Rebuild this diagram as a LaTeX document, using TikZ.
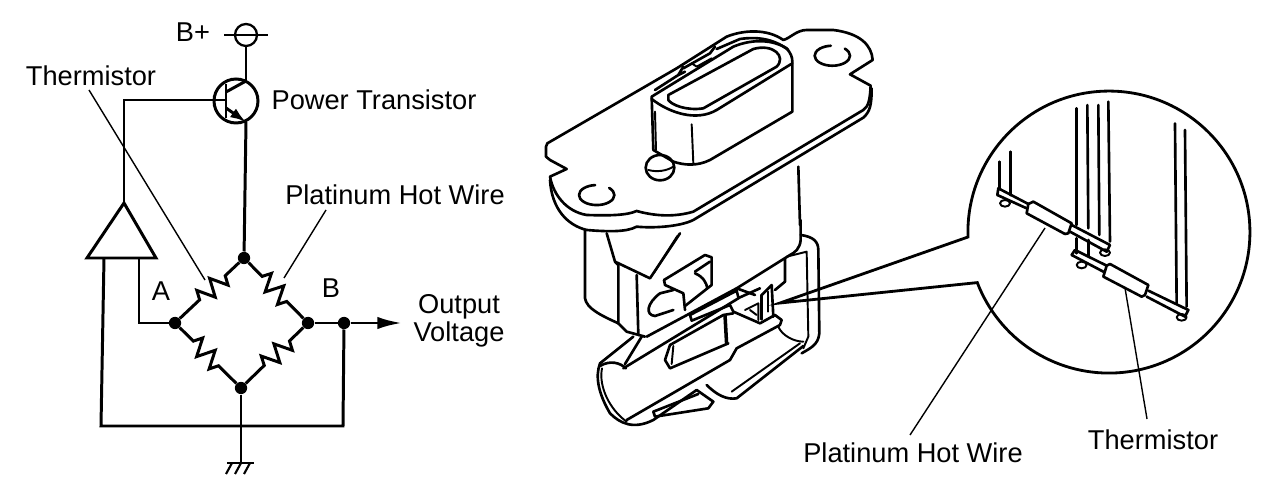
\documentclass[tikz,border=0pt]{standalone}
\usepackage{fontspec}
\setmainfont{Liberation Sans}
\usetikzlibrary{arrows.meta,decorations.pathmorphing}

\tikzset{
	wire/.style={line width=1.7pt, line join=miter},
	thin leader/.style={line width=0.8pt},
	dot/.style={circle, fill=black, inner sep=0pt, minimum size=7pt},
	txt/.style={font=\fontsize{15.5}{17}\selectfont, inner sep=0pt, align=center},
	res/.style={wire, decorate, decoration={zigzag, segment length=10pt, amplitude=5pt, pre length=11pt, post length=11pt}},
	body/.style={line width=1.5pt, line join=round, line cap=round},
	fine/.style={line width=1.1pt, line join=round, line cap=round}
}

\begin{document}
\begin{tikzpicture}[x=0.02cm, y=-0.02cm]
		\useasboundingbox (0, 0) rectangle (1280, 482);

		\path (193, 32) node[txt] (bplus) {B+}
  		(91, 76) node[txt] (thermL) {Thermistor}
  		(374, 100) node[txt] (powerL) {Power Transistor}
  		(395, 195) node[txt] (hotL) {Platinum Hot Wire}
  		(161, 291) node[txt] (aL) {A}
  		(331, 288) node[txt] (bL) {B}
  		(459, 321) node[txt] (outL) {Output\\[-1pt]Voltage}
  		(913, 453) node[txt] (hotR) {Platinum Hot Wire}
  		(1153, 440) node[txt] (thermR) {Thermistor};

		\path (246, 35) node[circle, draw, line width=1.3pt, inner sep=0pt, minimum size=0.44cm] (supply) {}
  		(236, 101) node[circle, draw, line width=1.7pt, inner sep=0pt, minimum size=0.88cm] (tr) {}
  		(244, 258) node[dot] (top) {}
  		(175, 323) node[dot] (left) {}
  		(308, 323) node[dot] (right) {}
  		(241, 388) node[dot] (bottom) {}
  		(344, 323) node[dot] (out) {};

		\coordinate (supplyL) at (224, 35);
		\coordinate (supplyR) at (268, 35);
		\coordinate (coll) at (246, 81);
		\coordinate (emit) at (246, 122);
		\coordinate (barT) at (226, 84);
		\coordinate (barB) at (226, 118);
		\coordinate (barC) at (226, 92);
		\coordinate (barE) at (226, 108);
		\coordinate (barM) at (226, 100);
		\coordinate (ampOut) at (124, 203);
		\coordinate (ampCorner) at (124, 100);
		\coordinate (ampL) at (87, 258);
		\coordinate (ampR) at (156, 258);
		\coordinate (inA) at (139, 258);
		\coordinate (inB) at (104, 258);
		\coordinate (cornerA) at (139, 323);
		\coordinate (cornerBL) at (101, 426);
		\coordinate (cornerBR) at (343, 426);
		\coordinate (tip) at (402, 323);
		\coordinate (gnd) at (241, 463);

		\draw[wire] (supplyL) -- (supplyR);
		\draw[wire] (supply) -- (coll);
		\draw[wire] (coll) -- (barC);
		\draw[wire] (barT) -- (barB);
		\draw[wire] (barM) -- (ampCorner) -- (ampOut);
		\draw[wire] (ampOut) -- (ampL) -- (ampR) -- cycle;
		\draw[wire, -{Latex[length=9pt, width=6pt]}] (barE) -- (emit);
		\draw[wire] (emit) -- (top);
		\draw[res] (top) -- (left);
		\draw[res] (top) -- (right);
		\draw[res] (left) -- (bottom);
		\draw[res] (right) -- (bottom);
		\draw[wire] (inA) -- (cornerA) -- (left);
		\draw[wire] (inB) -- (cornerBL) -- (cornerBR) -- (out);
		\draw[wire] (right) -- (out);
		\draw[wire, -{Latex[length=14pt, width=7pt]}] (out) -- (tip);
		\draw[wire] (bottom) -- (gnd);
		\draw[wire] (227, 463) -- (254, 463);
		\foreach \gx in {232, 241, 250}
			\draw[line width=1.2pt] (\gx, 463) -- ++(-6, 11);

		\coordinate (thermEnd) at (205, 280);
		\coordinate (thermStart) at (89, 90);
		\coordinate (hotEnd) at (284, 278);
		\coordinate (hotStart) at (326, 210);
		\draw[thin leader] (thermStart) -- (thermEnd);
		\draw[thin leader] (hotStart) -- (hotEnd);

		% callout with the round inset
		\coordinate (calloutTip) at (780, 303);
		\draw[line width=1.6pt, line join=miter] (calloutTip) -- (968, 237)
  			arc[start angle=178, end angle=519, radius=141] -- cycle;

		% plate and connector
		\begin{scope}[shift={(540, 25)}, x=0.00667cm, y=-0.00667cm]
			\draw[body] (22, 355) -- (410, 130) -- (560, 35) .. controls (610, 15) and (680, 10) .. (730, 45)
  				.. controls (750, 40) and (770, 15) .. (800, 15) -- (880, 15)
  				.. controls (960, 25) and (995, 60) .. (998, 105) -- (930, 148) -- (992, 182)
  				.. controls (990, 225) and (985, 245) .. (970, 255) -- (460, 560)
  				.. controls (400, 578) and (340, 572) .. (290, 558) .. controls (260, 572) and (200, 572) .. (140, 570)
  				.. controls (80, 560) and (40, 510) .. (30, 455) -- (80, 432) -- (30, 405) -- (18, 395)
  				-- (18, 365) -- cycle;
			\draw[body] (995, 190) .. controls (995, 240) and (990, 260) .. (970, 278) -- (460, 585)
  				.. controls (420, 605) and (340, 610) .. (290, 605) .. controls (260, 622) and (200, 620) .. (140, 615)
  				.. controls (80, 600) and (35, 550) .. (30, 465);
			\draw[body] (335, 215) -- (580, 65) .. controls (640, 40) and (700, 45) .. (740, 70)
  				.. controls (752, 85) and (757, 95) .. (757, 110) -- (757, 260) -- (510, 405)
  				.. controls (470, 425) and (430, 420) .. (400, 410) -- (340, 375) -- cycle;
			\draw[body] (335, 222) .. controls (390, 265) and (470, 290) .. (530, 255) -- (757, 115);
			\draw[body] (385, 210) -- (640, 72) .. controls (700, 55) and (740, 95) .. (710, 125) -- (490, 250)
  				.. controls (440, 258) and (395, 240) .. (385, 225) -- cycle;
			\draw[fine] (345, 260) -- (348, 375);
			\draw[fine] (455, 298) -- (460, 415);
			% tab on the rim
			\draw[body] (415, 150) -- (430, 125);
			\draw[body] (345, 195) -- (415, 150) -- (435, 140);
			\draw[body] (430, 130) -- (510, 85) -- (525, 65);
			\draw[fine] (455, 115) -- (470, 125) -- (515, 100);
			\draw[body] (530, 72) -- (600, 42) .. controls (650, 35) and (700, 40) .. (745, 75);
			% holes and pin
			\draw[body] (914.5, 71) arc[start angle=-45, end angle=265, x radius=53, y radius=30];
			\draw[body] (207.5, 489) arc[start angle=-45, end angle=265, x radius=53, y radius=30];
			\draw[body] (360, 428) ellipse[x radius=43, y radius=38];
			\draw[fine] (325, 435) .. controls (350, 442) and (380, 438) .. (400, 425);
			\draw[body] (775, 425) -- (780, 600);
		\end{scope}

		% lower part with the duct
		\begin{scope}[shift={(590, 220)}, x=0.00667cm, y=-0.00667cm]
			\draw[body] (632, 0) -- (632, 60) .. controls (630, 85) and (615, 98) .. (600, 105) -- (440, 205) -- (170, 350);
			\draw[body] (100, 445) -- (450, 232) -- (510, 205);
			\draw[body] (-15, 30) -- (-15, 235) .. controls (-10, 265) and (30, 285) .. (85, 310);
			\draw[body] (50, 40) -- (75, 125) -- (180, 175) -- (270, 40);
			\draw[fine] (192, 158) -- (262, 48);
			\draw[body] (75, 125) -- (85, 135) -- (85, 310) -- (110, 335) -- (165, 350);
			\draw[body] (140, 165) -- (145, 345);
			% knob
			\draw[body] (222, 180) -- (345, 105) -- (365, 112) -- (365, 195) -- (285, 258);
			\draw[body] (222, 180) -- (225, 195) -- (280, 220) -- (285, 270);
			\draw[body] (315, 155) -- (360, 125);
			\draw[body] (315, 160) .. controls (340, 170) and (350, 190) .. (352, 205);
			\draw[body] (250, 210) -- (210, 220) .. controls (170, 250) and (165, 285) .. (195, 288) -- (250, 270);
			% strip and slot
			\draw[body] (300, 285) -- (440, 212) -- (445, 232);
			\draw[body] (300, 285) -- (305, 302) -- (420, 255) -- (430, 275) -- (510, 310) -- (555, 285)
  				-- (575, 300) -- (570, 315) -- (440, 385) -- (420, 420) -- (110, 600);
			\draw[body] (400, 285) -- (240, 375) -- (225, 420) -- (240, 445) -- (415, 370);
			\draw[fine] (250, 378) -- (245, 432);
			\draw[line width=2pt] (405, 285) -- (410, 375);
			\draw[body] (400, 285) -- (430, 280);
			% mouth of the duct
			\draw[body] (130, 350) -- (30, 430) .. controls (15, 470) and (25, 520) .. (60, 580)
  				.. controls (90, 610) and (130, 630) .. (190, 600) -- (320, 510);
			\draw[body] (155, 350) -- (105, 432);
			\draw[body] (30, 438) .. controls (60, 420) and (90, 428) .. (108, 445);
			\draw[fine] (36, 445) .. controls (25, 500) and (60, 570) .. (110, 605);
			\draw[body] (190, 575) -- (325, 522);
			\draw[body] (190, 575) -- (195, 590) -- (355, 565) -- (370, 545) -- (320, 510);
			\draw[body] (350, 495) .. controls (380, 525) and (410, 540) .. (440, 535) -- (640, 378);
			\draw[fine] (425, 515) -- (630, 370);
			% housing around the duct
			\draw[body] (632, 45) .. controls (670, 50) and (685, 65) .. (685, 90) -- (688, 340)
  				.. controls (685, 375) and (660, 385) .. (635, 400);
			\draw[fine] (590, 110) -- (650, 95) -- (655, 350) -- (640, 385);
			\draw[body] (585, 115) -- (585, 185) -- (555, 210);
			\draw[fine] (565, 320) .. controls (575, 345) and (610, 365) .. (640, 365);
			% sensor
			\draw[body] (440, 205) -- (495, 225);
			\draw[body] (515, 225) -- (545, 195) -- (550, 290);
			\draw[body] (515, 225) -- (515, 298);
			\draw[fine] (535, 215) -- (535, 275);
			\draw[fine] (465, 270) -- (505, 250) -- (505, 300);
			\draw[fine] (480, 270) -- (500, 285);
		\end{scope}

		% wires in the inset
		\begin{scope}[shift={(760, 100)}, x=0.00667cm, y=-0.00667cm]
			\draw[body] (950, 25) -- (950, 375);
			\draw[body] (982, 15) -- (985, 385);
			\draw[body] (1015, 15) -- (1018, 405);
			\draw[body] (1045, 5) -- (1050, 425);
			\draw[body] (1245, 70) -- (1250, 610);
			\draw[body] (1275, 90) -- (1280, 620);
			\draw[body] (718, 185) -- (718, 265);
			\draw[body] (752, 155) -- (752, 285);
			\draw[body] (712, 285) -- (715, 265) -- (805, 312);
			\draw[body] (712, 285) -- (800, 325);
			\draw[body] (805, 312) -- (820, 305) -- (935, 370) -- (925, 400) -- (915, 402) -- (800, 340) -- (805, 312);
			\draw[body] (935, 375) -- (1050, 435) -- (1040, 455) -- (930, 395);
			\draw[fine] (735, 310) ellipse[x radius=15, y radius=10];
			\draw[fine] (1035, 458) ellipse[x radius=15, y radius=10];
			\draw[body] (950, 415) -- (950, 460);
			\draw[body] (985, 420) -- (985, 468);
			\draw[body] (935, 465) -- (945, 450) -- (1040, 497);
			\draw[body] (935, 465) -- (1030, 515);
			\draw[body] (1040, 497) -- (1050, 492) -- (1165, 555) -- (1155, 585) -- (1145, 590) -- (1030, 530) -- (1040, 497);
			\draw[body] (1165, 572) -- (1285, 630) -- (1275, 650) -- (1160, 590);
			\draw[fine] (965, 495) ellipse[x radius=15, y radius=10];
			\draw[fine] (1265, 652) ellipse[x radius=15, y radius=10];
		\end{scope}

		\coordinate (hotRStart) at (910, 435);
		\coordinate (hotREnd) at (1045, 228);
		\coordinate (thermRStart) at (1147, 419);
		\coordinate (thermREnd) at (1125, 288);
		\draw[thin leader] (hotRStart) -- (hotREnd);
		\draw[thin leader] (thermRStart) -- (thermREnd);
	\end{tikzpicture}
\end{document}
